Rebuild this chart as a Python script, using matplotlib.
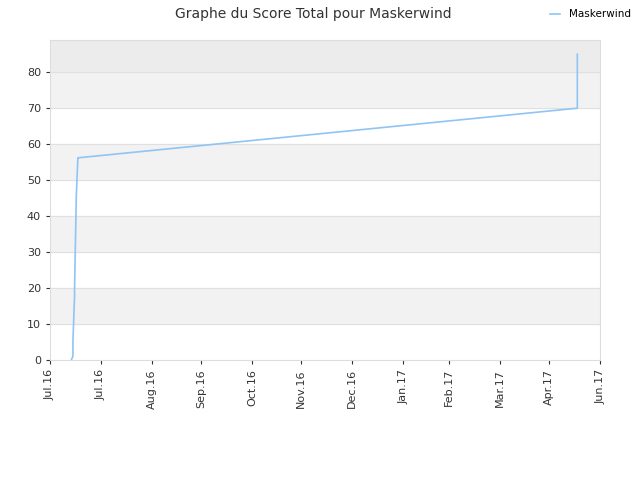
import matplotlib.pyplot as plt
import pandas as pd

# score history for Maskerwind
dates = pd.to_datetime([
    "2016-07-13", "2016-07-14", "2016-07-14", "2016-07-15", "2016-07-15",
    "2016-07-16", "2016-07-16", "2016-07-17", "2016-07-17", "2017-05-17",
    "2017-05-17",
])
scores = [0, 1, 5, 18, 20, 44, 45, 56, 56.2, 70, 85]

tick_dates = pd.to_datetime([
    "2016-06-30", "2016-07-31", "2016-08-31", "2016-09-30", "2016-10-31",
    "2016-11-30", "2016-12-31", "2017-01-31", "2017-02-28", "2017-03-31",
    "2017-04-30", "2017-05-31",
])
tick_labels = ["Jul.16", "Jul.16", "Aug.16", "Sep.16", "Oct.16", "Nov.16",
               "Dec.16", "Jan.17", "Feb.17", "Mar.17", "Apr.17", "Jun.17"]

fig, ax = plt.subplots(figsize=(6.4, 4.8), dpi=100)
fig.subplots_adjust(left=0.078, right=0.938, top=0.917, bottom=0.25)

for lo in range(10, 80, 20):
    ax.axhspan(lo, lo + 10, color="#f2f2f2", zorder=0)
ax.axhspan(80, 90, color="#ececec", zorder=0)
for y in range(10, 90, 10):
    ax.axhline(y, color="#e0e0e0", lw=0.8, zorder=1)

ax.plot(dates, scores, color="#90c4f4", lw=1.2, label="Maskerwind", zorder=2)

ax.set_ylim(0, 89)
ax.set_xlim(tick_dates[0], tick_dates[-1])
ax.set_yticks(range(0, 90, 10))
ax.set_xticks(tick_dates)
ax.set_xticklabels(tick_labels, rotation=90)
ax.tick_params(labelsize=8, colors="#333333", length=3)
for s in ax.spines.values():
    s.set_color("#dddddd")

fig.suptitle("Graphe du Score Total pour Maskerwind", x=0.49, y=0.985, fontsize=10, color="#333333")
fig.legend(loc="upper right", bbox_to_anchor=(1.0, 1.0), frameon=False, fontsize=7.5, handlelength=1)
plt.savefig("out.png", dpi=100)
